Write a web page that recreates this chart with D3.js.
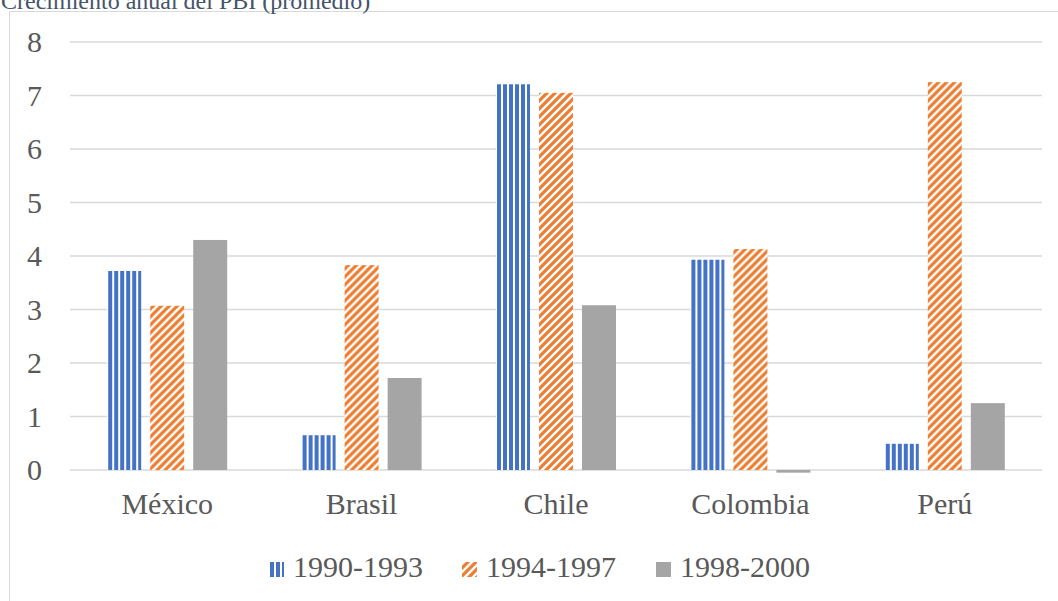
<html>
<head>
    <meta charset="utf-8">
    <script src="https://d3js.org/d3.v7.min.js"></script>
    <style>
        body { margin: 0; background: #fff; }
        text { font-family: 'Liberation Serif', 'Times New Roman', serif; }
    </style>
</head>
<body>
    <svg width="1058" height="601"></svg>
    <script>
        // datos
        var paises = ['México', 'Brasil', 'Chile', 'Colombia', 'Perú']
        var periodos = ['1990-1993', '1994-1997', '1998-2000']
        var v1990 = [3.72, 0.65, 7.21, 3.93, 0.49]
        var v1994 = [3.07, 3.83, 7.05, 4.13, 7.25]
        var v1998 = [4.30, 1.72, 3.08, -0.05, 1.25]
        var yTicks = [0, 1, 2, 3, 4, 5, 6, 7, 8]

        var series = [v1990, v1994, v1998]
        var fills = ['url(#pVert)', 'url(#pDiag)', '#a5a5a5']

        var svg = d3.select('svg')

        // patrones de relleno
        var defs = svg.append('defs')
        var pv = defs.append('pattern')
            .attr('id', 'pVert')
            .attr('patternUnits', 'userSpaceOnUse')
            .attr('width', 6).attr('height', 6)
        pv.append('rect').attr('width', 6).attr('height', 6).attr('fill', '#fff')
        pv.append('rect').attr('x', 1).attr('width', 4).attr('height', 6).attr('fill', '#4472c4')

        var pd = defs.append('pattern')
            .attr('id', 'pDiag')
            .attr('patternUnits', 'userSpaceOnUse')
            .attr('width', 8).attr('height', 8)
        pd.append('rect').attr('width', 8).attr('height', 8).attr('fill', '#fff')
        pd.append('path')
            .attr('d', 'M-2,10 L10,-2 M-6,6 L6,-6 M2,14 L14,2')
            .attr('stroke', '#ed7d31')
            .attr('stroke-width', 3.2)

        // marco
        svg.append('rect')
            .attr('x', 9.5).attr('y', 11.5)
            .attr('width', 1060).attr('height', 600)
            .attr('fill', 'none')
            .attr('stroke', '#d9d9d9')
            .attr('stroke-width', 1)

        // titulo (cortado arriba)
        svg.append('text')
            .attr('x', 1).attr('y', 9)
            .attr('font-size', 24)
            .attr('fill', '#44546a')
            .text('Crecimiento anual del PBI (promedio)')

        var x0 = d3.scaleBand()
            .domain(paises)
            .range([70, 1042])
        var x1 = d3.scaleBand()
            .domain(d3.range(3))
            .range([0, 120])
            .paddingInner(0.21)
        var y = d3.scaleLinear()
            .domain([0, 8])
            .range([470, 42])

        // rejilla
        svg.append('g')
            .selectAll('line')
            .data(yTicks)
            .enter()
            .append('line')
            .attr('x1', 70).attr('x2', 1042)
            .attr('y1', function(d) { return y(d) })
            .attr('y2', function(d) { return y(d) })
            .attr('stroke', '#d9d9d9')
            .attr('stroke-width', 1.5)

        var yAxis = d3.axisLeft(y)
            .tickValues(yTicks)
            .tickSize(0)
            .tickPadding(0)
        var gy = svg.append('g')
            .attr('transform', 'translate(42,0)')
            .call(yAxis)
        gy.select('.domain').remove()
        gy.attr('font-family', null)
        gy.selectAll('text')
            .attr('font-size', 30)
            .attr('fill', '#595959')

        // barras
        var groups = svg.append('g')
            .selectAll('g')
            .data(paises)
            .enter()
            .append('g')
            .attr('transform', function(d) {
                return 'translate(' + (x0(d) + (x0.bandwidth() - 120) / 2) + ',0)'
            })
        groups.selectAll('rect')
            .data(function(d, i) {
                return series.map(function(s, k) { return { k: k, v: s[i] } })
            })
            .enter()
            .append('rect')
            .attr('x', function(d) { return x1(d.k) })
            .attr('width', x1.bandwidth())
            .attr('y', function(d) { return y(Math.max(0, d.v)) })
            .attr('height', function(d) { return Math.abs(y(d.v) - y(0)) })
            .attr('fill', function(d) { return fills[d.k] })

        var xAxis = d3.axisBottom(x0).tickSize(0).tickPadding(0)
        var gx = svg.append('g')
            .attr('transform', 'translate(0,493)')
            .call(xAxis)
        gx.select('.domain').remove()
        gx.attr('font-family', null)
        gx.selectAll('text')
            .attr('font-size', 30)
            .attr('fill', '#595959')

        // leyenda
        var legX = [269, 462, 656]
        var leg = svg.append('g')
            .selectAll('g')
            .data(periodos)
            .enter()
            .append('g')
            .attr('transform', function(d, i) { return 'translate(' + legX[i] + ',0)' })
        leg.append('rect')
            .attr('y', 562).attr('width', 15).attr('height', 15)
            .attr('fill', function(d, i) { return fills[i] })
        leg.append('text')
            .attr('x', 24).attr('y', 577)
            .attr('font-size', 30)
            .attr('fill', '#595959')
            .text(function(d) { return d })
    </script>
</body>
</html>
